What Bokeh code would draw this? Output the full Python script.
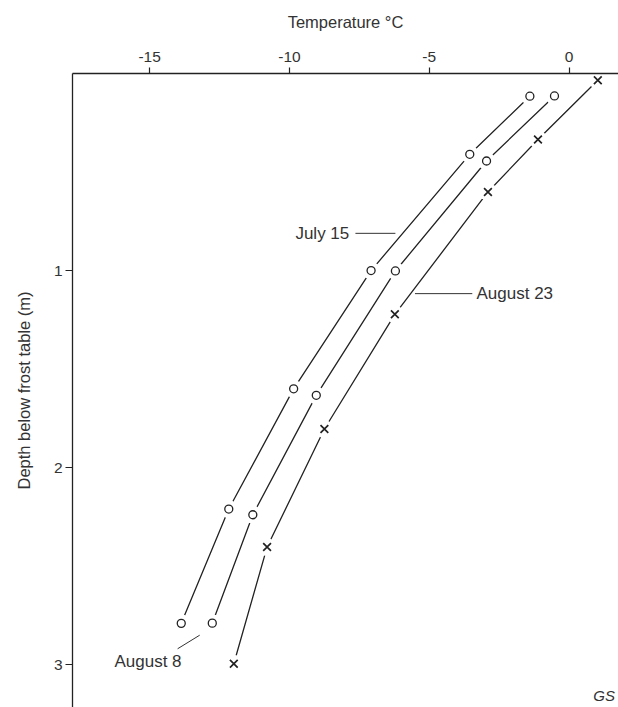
from bokeh.plotting import figure
from bokeh.models import Range1d, FixedTicker, Label
from bokeh.embed import file_html
from bokeh.resources import INLINE

# Data
jul15_temp = [-1.40, -3.55, -7.08, -9.85, -12.17, -13.87]
jul15_depth = [0.115, 0.41, 1.0, 1.60, 2.21, 2.79]
aug8_temp = [-0.52, -2.95, -6.21, -9.04, -11.31, -12.76]
aug8_depth = [0.114, 0.444, 1.002, 1.633, 2.239, 2.789]
aug23_temp = [1.03, -1.11, -2.90, -6.23, -8.75, -10.80, -11.99]
aug23_depth = [0.034, 0.335, 0.601, 1.222, 1.804, 2.403, 2.995]

x_ticks = [-15, -10, -5, 0]
x_tick_labels = ["-15", "-10", "-5", "0"]
y_ticks = [1, 2, 3]

FONT = "Liberation Sans"
INK = "#222222"
TXT = "#333333"

p = figure(width=618, height=707,
           x_range=Range1d(-17.76, 1.77), y_range=Range1d(3.217, 0),
           x_axis_location="above", output_backend="svg", toolbar_location=None,
           min_border_left=72, min_border_top=73, min_border_right=0, min_border_bottom=0)
p.outline_line_color = None
p.xgrid.visible = False
p.ygrid.visible = False
p.background_fill_color = "white"
p.border_fill_color = "white"

for ax in (p.xaxis, p.yaxis):
    ax.axis_line_color = INK
    ax.axis_line_width = 1.3
    ax.major_tick_line_color = INK
    ax.major_tick_line_width = 1.2
    ax.major_tick_in = 0
    ax.minor_tick_in = 0
    ax.minor_tick_out = 0
    ax.major_label_text_font = FONT
    ax.major_label_text_font_size = "15.5px"
    ax.major_label_text_color = TXT
    ax.axis_label_text_font = FONT
    ax.axis_label_text_font_size = "16.5px"
    ax.axis_label_text_font_style = "normal"
    ax.axis_label_text_color = TXT

p.xaxis.ticker = FixedTicker(ticks=x_ticks)
p.xaxis.major_label_overrides = dict(zip(x_ticks, x_tick_labels))
p.yaxis.ticker = FixedTicker(ticks=y_ticks)
p.xaxis.major_tick_out = 6
p.yaxis.major_tick_out = 7
p.xaxis.major_label_standoff = 6
p.yaxis.major_label_standoff = 3
p.xaxis.axis_label = "Temperature \u00b0C"
p.yaxis.axis_label = "Depth below frost table (m)"
p.xaxis.axis_label_standoff = 18
p.yaxis.axis_label_standoff = 18

series = [(jul15_temp, jul15_depth, "circle"),
          (aug8_temp, aug8_depth, "circle"),
          (aug23_temp, aug23_depth, "x")]

for t, d, m in series:
    p.line(t, d, line_color=INK, line_width=1.3)
for t, d, m in series:
    p.scatter(t, d, size=18, marker="circle", fill_color="white", line_color=None)
for t, d, m in series:
    if m == "circle":
        p.scatter(t, d, marker="circle", size=8, fill_color="white",
                  line_color=INK, line_width=1.3)
    else:
        p.scatter(t, d, marker="x", size=11, line_color=INK, line_width=1.7)

# Labels and leader lines
label_names = ["July 15", "August 23", "August 8"]
label_x = [-7.86, -3.31, -16.26]
label_y = [0.811, 1.117, 2.982]
label_align = ["right", "left", "left"]
leader_x = [[-7.64, -6.21], [-5.51, -3.46], [-14.0, -13.21]]
leader_y = [[0.811, 0.811], [1.117, 1.117], [2.919, 2.850]]

for lx, ly in zip(leader_x, leader_y):
    p.line(lx, ly, line_color=TXT, line_width=1.0)
for name, x, y, al in zip(label_names, label_x, label_y, label_align):
    p.add_layout(Label(x=x, y=y, text=name, text_align=al, text_baseline="middle",
                       text_font=FONT, text_font_size="17px", text_color=TXT))

p.add_layout(Label(x=0.87, y=3.158, text="GS", text_align="left", text_baseline="middle",
                   text_font=FONT, text_font_size="15px", text_font_style="italic",
                   text_color=TXT))

open("out.html", "w").write(file_html(p, INLINE))
